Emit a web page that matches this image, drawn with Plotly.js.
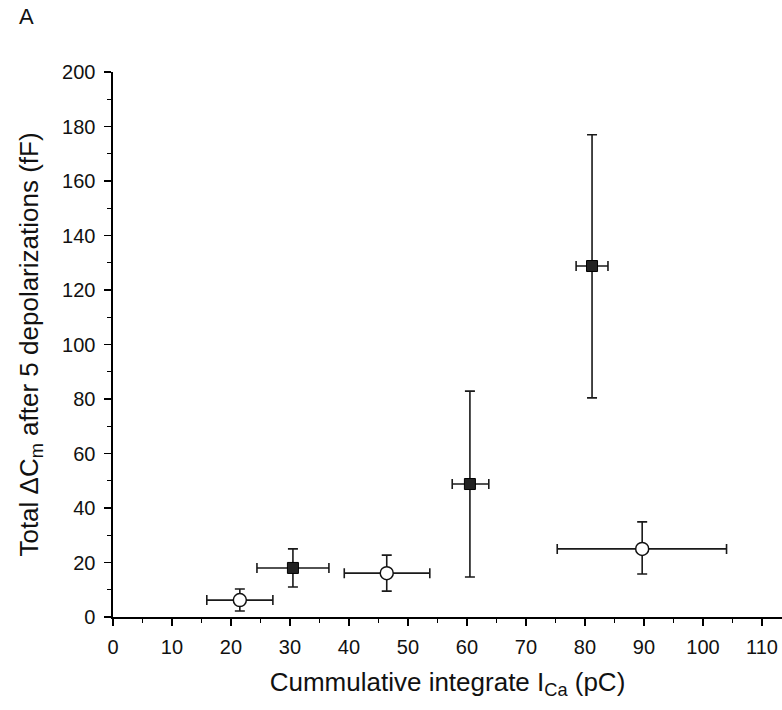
<!DOCTYPE html>
<html>
<head>
<meta charset="utf-8">
<script src="https://cdn.plot.ly/plotly-3.0.1.min.js"></script>
<style>html,body{margin:0;padding:0;background:#fff;}#chart{width:782px;height:710px;}</style>
</head>
<body>
<div id="chart"></div>
<script>
// Open circles
const openX = [21.5, 46.4, 89.7];
const openY = [6.2, 16.1, 25.0];
const openXLow = [15.9, 39.2, 75.3];
const openXHigh = [27.1, 53.7, 104.0];
const openYLow = [2.2, 9.5, 15.8];
const openYHigh = [10.3, 22.7, 34.9];

// Filled squares
const fillX = [30.5, 60.5, 81.2];
const fillY = [18.0, 48.8, 128.8];
const fillXLow = [24.4, 57.5, 78.5];
const fillXHigh = [36.6, 63.7, 83.9];
const fillYLow = [11.0, 14.7, 80.4];
const fillYHigh = [25.0, 82.9, 177.0];

const xTicks = [0, 10, 20, 30, 40, 50, 60, 70, 80, 90, 100, 110];
const yTicks = [0, 20, 40, 60, 80, 100, 120, 140, 160, 180, 200];

function plus(hi, v) { return hi.map((h, i) => h - v[i]); }
function minus(lo, v) { return lo.map((l, i) => v[i] - l); }

const errStyle = {color: '#1a1a1a', thickness: 1.6, width: 5};

const traces = [
  {
    x: fillX, y: fillY, type: 'scatter', mode: 'markers',
    marker: {symbol: 'square', size: 11, color: '#222', line: {color: '#000', width: 1}},
    error_x: Object.assign({type: 'data', symmetric: false, array: plus(fillXHigh, fillX), arrayminus: minus(fillXLow, fillX)}, errStyle),
    error_y: Object.assign({type: 'data', symmetric: false, array: plus(fillYHigh, fillY), arrayminus: minus(fillYLow, fillY)}, errStyle),
    showlegend: false, hoverinfo: 'x+y'
  },
  {
    x: openX, y: openY, type: 'scatter', mode: 'markers',
    marker: {symbol: 'circle', size: 13, color: '#fff', line: {color: '#111', width: 1.5}},
    error_x: Object.assign({type: 'data', symmetric: false, array: plus(openXHigh, openX), arrayminus: minus(openXLow, openX)}, errStyle),
    error_y: Object.assign({type: 'data', symmetric: false, array: plus(openYHigh, openY), arrayminus: minus(openYLow, openY)}, errStyle),
    showlegend: false, hoverinfo: 'x+y'
  }
];

const fontFam = 'Liberation Sans, Arial, sans-serif';

const layout = {
  width: 782, height: 710,
  margin: {l: 113, r: 0, t: 72, b: 93},
  paper_bgcolor: '#fff', plot_bgcolor: '#fff',
  font: {family: fontFam, color: '#111'},
  xaxis: {
    range: [0, 113.4], tickmode: 'array', tickvals: xTicks, ticktext: xTicks.map(String),
    showgrid: false, zeroline: false, showline: true, linecolor: '#000', linewidth: 1.6,
    ticks: 'outside', ticklen: 7, tickwidth: 1.6, tickcolor: '#000', ticklabelstandoff: 4,
    minor: {dtick: 5, tick0: 0, ticks: 'outside', ticklen: 4, tickwidth: 1.4, tickcolor: '#000', showgrid: false},
    tickfont: {size: 20, family: fontFam, color: '#111'},
    title: {text: 'Cummulative integrate I<sub>Ca</sub> (pC)', font: {size: 26, family: fontFam, color: '#111'}, standoff: 16}
  },
  yaxis: {
    range: [0, 200], tickmode: 'array', tickvals: yTicks, ticktext: yTicks.map(String),
    showgrid: false, zeroline: false, showline: true, linecolor: '#000', linewidth: 1.6,
    ticks: 'outside', ticklen: 7, tickwidth: 1.6, tickcolor: '#000', ticklabelstandoff: 5,
    minor: {dtick: 10, tick0: 0, ticks: 'outside', ticklen: 4, tickwidth: 1.4, tickcolor: '#000', showgrid: false},
    tickfont: {size: 20, family: fontFam, color: '#111'},
    title: {text: 'Total \u0394C<sub>m</sub> after 5 depolarizations (fF)', font: {size: 26, family: fontFam, color: '#111'}, standoff: 16}
  },
  annotations: [
    {text: 'A', xref: 'paper', yref: 'paper', x: -0.144, y: 1.101, xanchor: 'left', yanchor: 'middle', showarrow: false, font: {size: 22, family: fontFam, color: '#111'}}
  ]
};

Plotly.newPlot('chart', traces, layout, {displayModeBar: false, staticPlot: true});
</script>
</body>
</html>
